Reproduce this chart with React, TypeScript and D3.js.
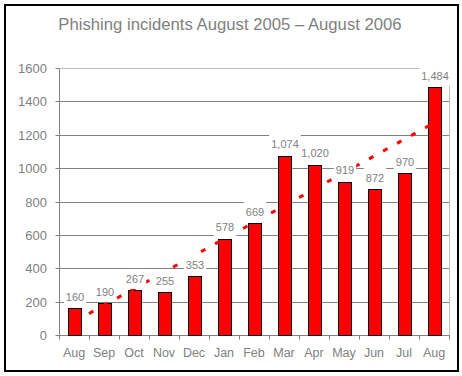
import React from "react";
import * as d3 from "d3";

const months = ["Aug", "Sep", "Oct", "Nov", "Dec", "Jan", "Feb", "Mar", "Apr", "May", "Jun", "Jul", "Aug"];
const incidents = [160, 190, 267, 255, 353, 578, 669, 1074, 1020, 919, 872, 970, 1484];
const yTicks = [0, 200, 400, 600, 800, 1000, 1200, 1400, 1600];
// linear trendline values at first and last month
const trendEnds = [82, 1274];
const title = "Phishing incidents August 2005 \u2013 August 2006";

const W = 462;
const H = 376;
const GRAY = "#808080";
const LIGHT = "#c0c0c0";
const FONT = "'Liberation Sans', Arial, sans-serif";

export default function App() {
  const keys = months.map((m, i) => i);
  const x = d3
    .scaleBand<number>()
    .domain(keys)
    .range([59.5, 449.5])
    .paddingInner(17 / 30)
    .paddingOuter(8.5 / 30);
  const y = d3.scaleLinear().domain([0, 1600]).range([335, 68]);
  const step = x.step();
  const left = 59.5;
  const right = 449.5;
  const crisp = (v: number) => Math.round(v) + 0.5;
  const fmt = d3.format(",");
  const cx = (i: number) => (x(i) as number) + x.bandwidth() / 2 + 0.5;

  const trendLine = d3
    .line<number>()
    .x((_, j) => cx(j === 0 ? 0 : keys.length - 1))
    .y((v) => y(v));

  const labelW = (s: string) => {
    let w = 0;
    for (const ch of s) w += ch === "," ? 3.06 : 6.12;
    return w;
  };

  return (
    <svg width={W} height={H} style={{ position: "absolute", left: 0, top: 0 }}>
      <rect x={0} y={0} width={W} height={H} fill="#fff" />
      <rect x={5} y={5} width={453} height={366} fill="none" stroke="#000" strokeWidth={2} />
      <text x={230} y={30} textAnchor="middle" fontFamily={FONT} fontSize={16.7} fill={GRAY}>
        {title}
      </text>

      {/* gridlines */}
      {yTicks.map((t) => (
        <line
          key={"g" + t}
          x1={left}
          x2={right}
          y1={crisp(y(t))}
          y2={crisp(y(t))}
          stroke={t === 1600 ? LIGHT : GRAY}
          strokeWidth={1}
        />
      ))}
      {/* right plot border */}
      <line x1={right} x2={right} y1={crisp(y(1600))} y2={crisp(y(0))} stroke={LIGHT} />
      {/* y axis */}
      <line x1={left} x2={left} y1={crisp(y(1600))} y2={crisp(y(0)) + 0.5} stroke={GRAY} />
      {yTicks.map((t) => (
        <g key={"yt" + t}>
          <line x1={left - 4} x2={left} y1={crisp(y(t))} y2={crisp(y(t))} stroke={GRAY} />
          <text
            x={47}
            y={y(t) + 5}
            textAnchor="end"
            fontFamily={FONT}
            fontSize={13}
            fill={GRAY}
          >
            {t}
          </text>
        </g>
      ))}
      {/* x axis */}
      <line x1={left} x2={right} y1={crisp(y(0))} y2={crisp(y(0))} stroke={GRAY} />
      {d3.range(keys.length + 1).map((k) => (
        <line
          key={"xt" + k}
          x1={left + k * step}
          x2={left + k * step}
          y1={crisp(y(0))}
          y2={crisp(y(0)) + 4}
          stroke={GRAY}
        />
      ))}
      {months.map((m, i) => (
        <text
          key={"xl" + i}
          x={cx(i) - 1}
          y={357}
          textAnchor="middle"
          fontFamily={FONT}
          fontSize={12.5}
          fill={GRAY}
        >
          {m}
        </text>
      ))}

      {/* bars */}
      {incidents.map((v, i) => (
        <rect
          key={"b" + i}
          x={(x(i) as number) + 0.5}
          y={crisp(y(v))}
          width={x.bandwidth()}
          height={crisp(y(0)) - crisp(y(v))}
          fill="#ff0000"
          stroke="#000"
          strokeWidth={1}
        />
      ))}

      {/* trendline */}
      <path
        d={trendLine(trendEnds) as string}
        fill="none"
        stroke="#ff0000"
        strokeWidth={3}
        strokeDasharray="5 11"
      />

      {/* data labels */}
      {incidents.map((v, i) => {
        const s = fmt(v);
        const w = labelW(s);
        const base = y(v) - 7.5;
        return (
          <g key={"l" + i}>
            <rect x={cx(i) - w / 2 - 2} y={base - 14} width={w + 4} height={20} fill="#fff" />
            <text
              x={cx(i)}
              y={base}
              textAnchor="middle"
              fontFamily={FONT}
              fontSize={11}
              fill={GRAY}
            >
              {s}
            </text>
          </g>
        );
      })}
    </svg>
  );
}
